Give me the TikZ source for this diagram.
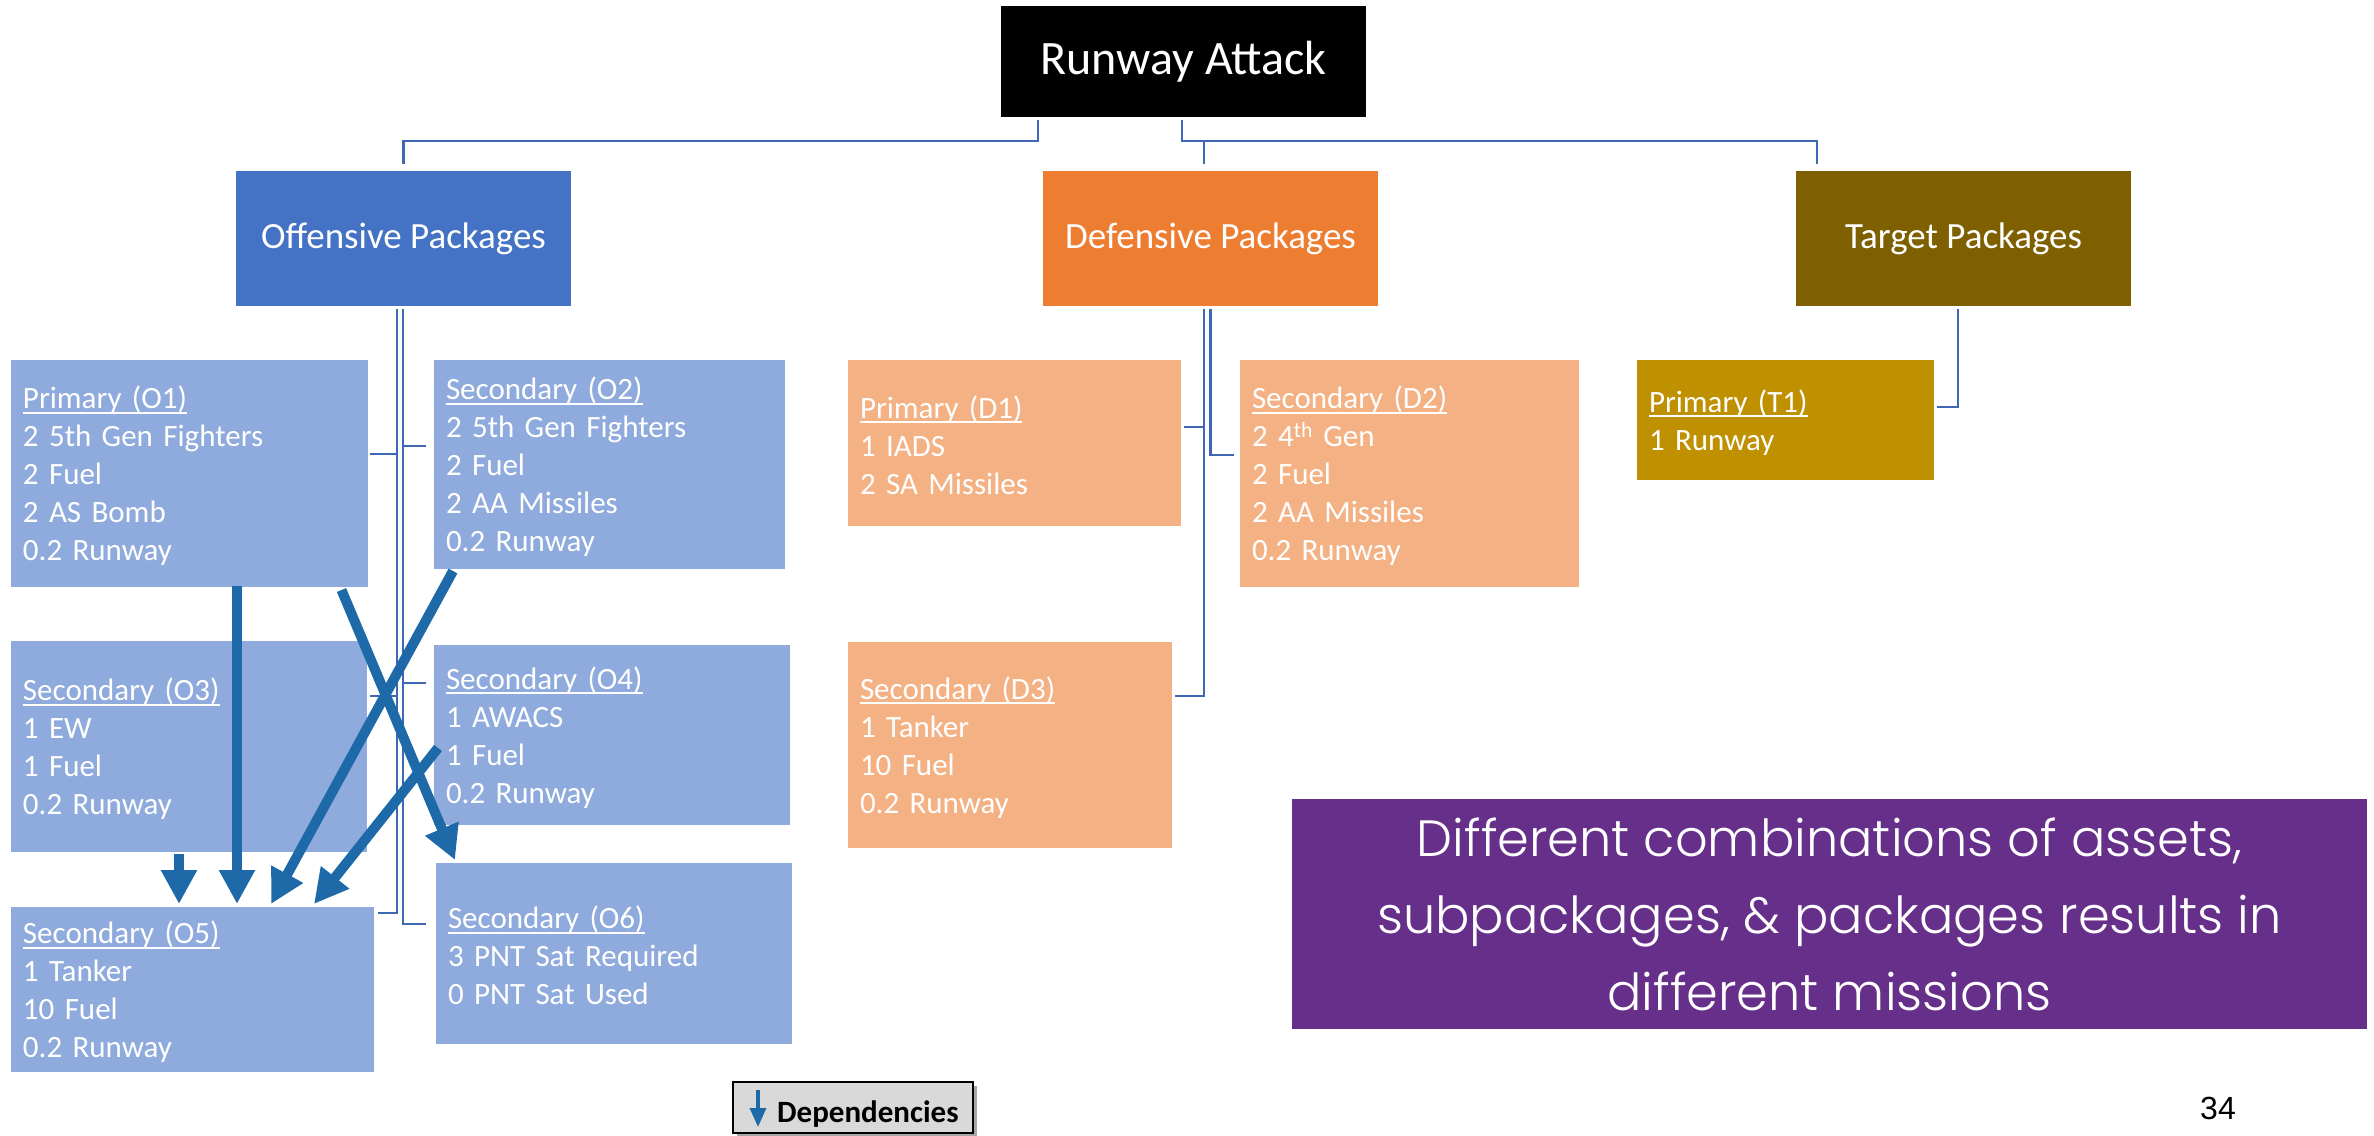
\documentclass[tikz,border=0pt]{standalone}
\usepackage{fontspec}
\setmainfont{Carlito}
\IfFontExistsTF{Poppins Light}
  {\newfontfamily\geofont{Poppins Light}}
  {\newfontfamily\geofont{Poppins}}
\newfontfamily\numfont{Liberation Sans}
\usetikzlibrary{arrows.meta,shadows}

\definecolor{offblue}{RGB}{68,114,196}
\definecolor{deforange}{RGB}{237,125,49}
\definecolor{tgtbrown}{RGB}{127,96,0}
\definecolor{offlight}{RGB}{143,170,220}
\definecolor{deflight}{RGB}{244,177,131}
\definecolor{tgtlight}{RGB}{191,144,0}
\definecolor{connblue}{RGB}{63,104,180}
\definecolor{depblue}{RGB}{30,106,168}
\definecolor{notepurple}{RGB}{102,48,138}
\definecolor{leggray}{RGB}{217,217,217}

% underlined heading line inside a package box
\newcommand\hdline[1]{\setbox0=\hbox{#1}\rule{0pt}{27pt}\rlap{\rule[-5pt]{\wd0}{2pt}}\box0}

\tikzset{
  rootbox/.style={fill=black, text=white, font=\fontsize{48}{58}\selectfont,
    minimum width=365, minimum height=111, inner sep=0, outer sep=0},
  pkgbox/.style={text=white, font=\fontsize{37}{45}\selectfont,
    minimum width=335, minimum height=135, inner sep=0, outer sep=0},
  subbox/.style={anchor=north west, text=white, font=\fontsize{31}{38}\selectfont,
    align=left, inner xsep=12, inner ysep=0, outer sep=0},
  conn/.style={draw=connblue, line width=2.5},
  dep/.style={draw=depblue, line width=10, -{Triangle[width=34pt,length=34pt]}},
  legbox/.style={fill=leggray, draw=black, line width=2, minimum width=240,
    minimum height=51, inner sep=0,
    drop shadow={shadow xshift=4pt, shadow yshift=-4pt, opacity=0.35, fill=black}},
  legtext/.style={font=\bfseries\fontsize{31}{37}\selectfont, inner sep=0, anchor=base west},
  legarrow/.style={draw=depblue, line width=3.3, -{Triangle[width=16pt,length=19pt]}},
  notebox/.style={fill=notepurple, text=white, minimum width=1075, minimum height=230,
    align=center, inner sep=0, font=\geofont\fontsize{51}{77}\selectfont},
  pagenum/.style={font=\numfont\fontsize{32}{38}\selectfont, inner sep=0}
}

\begin{document}
\begin{tikzpicture}[x=1pt,y=-1pt]
\useasboundingbox (0,0) rectangle (2374,1135);

% top of the hierarchy
\node[rootbox] (root) at (1183.5,61.5) {Runway Attack};
\node[pkgbox, fill=offblue]   (off) at (403.5,238.5)  {Offensive Packages};
\node[pkgbox, fill=deforange] (def) at (1210.5,238.5) {Defensive Packages};
\node[pkgbox, fill=tgtbrown]  (tgt) at (1963.5,238.5) {Target Packages};

% offensive sub-packages
\node[subbox, fill=offlight, text width=333, minimum height=227] (o1) at (11,360)
  {\hdline{Primary (O1)}\\2 5th Gen Fighters\\2 Fuel\\2 AS Bomb\\0.2 Runway};
\node[subbox, fill=offlight, text width=327, minimum height=209] (o2) at (434,360)
  {\hdline{Secondary (O2)}\\2 5th Gen Fighters\\2 Fuel\\2 AA Missiles\\0.2 Runway};
\node[subbox, fill=offlight, text width=332, minimum height=211] (o3) at (11,641)
  {\hdline{Secondary (O3)}\\1 EW\\1 Fuel\\0.2 Runway};
\node[subbox, fill=offlight, text width=332, minimum height=180] (o4) at (434,645)
  {\hdline{Secondary (O4)}\\1 AWACS\\1 Fuel\\0.2 Runway};
\node[subbox, fill=offlight, text width=339, minimum height=165] (o5) at (11,907)
  {\hdline{Secondary (O5)}\\1 Tanker\\10 Fuel\\0.2 Runway};
\node[subbox, fill=offlight, text width=332, minimum height=181] (o6) at (436,863)
  {\hdline{Secondary (O6)}\\3 PNT Sat Required\\0 PNT Sat Used};

% defensive sub-packages
\node[subbox, fill=deflight, text width=309, minimum height=166] (d1) at (848,360)
  {\hdline{Primary (D1)}\\1 IADS\\2 SA Missiles};
\node[subbox, fill=deflight, text width=315, minimum height=227] (d2) at (1240,360)
  {\hdline{Secondary (D2)}\\2 4\textsuperscript{th} Gen\\2 Fuel\\2 AA Missiles\\0.2 Runway};
\node[subbox, fill=deflight, text width=300, minimum height=206] (d3) at (848,642)
  {\hdline{Secondary (D3)}\\1 Tanker\\10 Fuel\\0.2 Runway};

% target sub-package
\node[subbox, fill=tgtlight, text width=273, minimum height=120] (t1) at (1637,360)
  {\hdline{Primary (T1)}\\1 Runway};

% root to packages
\draw[conn] ([xshift=-145.5,yshift=-3]root.south) -- ++(0,21) -| ([yshift=7]off.north);
\draw[conn] ([xshift=-1.5,yshift=-3]root.south) -- ++(0,21) -| ([xshift=-6.5,yshift=7]def.north);
\draw[conn] ([xshift=-1.5,yshift=-3]root.south) -- ++(0,21) -| ([xshift=-146.5,yshift=7]tgt.north);

% offensive package to its sub-packages
\draw[conn] ([xshift=-6.5,yshift=-3]off.south) |- ([xshift=2,yshift=19.5]o1.east);
\draw[conn] ([xshift=-6.5,yshift=-3]off.south) |- ([xshift=3,yshift=50.5]o3.east);
\draw[conn] ([xshift=-6.5,yshift=-3]off.south) |- ([xshift=4,yshift=76.5]o5.east);
\draw[conn] ([xshift=-0.5,yshift=-3]off.south) |- ([xshift=-8,yshift=18.5]o2.west);
\draw[conn] ([xshift=-0.5,yshift=-3]off.south) |- ([xshift=-8,yshift=52]o4.west);
\draw[conn] ([xshift=-0.5,yshift=-3]off.south) |- ([xshift=-10,yshift=29.5]o6.west);

% defensive package to its sub-packages
\draw[conn] ([xshift=-6.5,yshift=-3]def.south) |- ([xshift=3,yshift=16]d1.east);
\draw[conn] ([xshift=-6.5,yshift=-3]def.south) |- ([xshift=3,yshift=49]d3.east);
\draw[conn] ([yshift=-3]def.south) |- ([xshift=-6,yshift=18.5]d2.west);

% target package to its sub-package
\draw[conn] ([xshift=-5.5,yshift=-3]tgt.south) |- ([xshift=3,yshift=13]t1.east);

% dependencies between offensive sub-packages
\draw[dep] ([xshift=47.5,yshift=1]o1.south) -- ([xshift=44.5,yshift=3]o5.north);
\draw[dep] ([xshift=-10,yshift=-2]o3.south) -- ([xshift=-13.5,yshift=3]o5.north);
\draw[dep] ([xshift=-156.5,yshift=-2]o2.south) -- ([xshift=78.5,yshift=3]o5.north);
\draw[dep] ([xshift=4,yshift=-13]o4.west) -- ([xshift=121.5,yshift=3]o5.north);
\draw[dep] ([xshift=152,yshift=-3]o1.south) -- ([xshift=-159,yshift=3]o6.north);

% summary note
\node[notebox] (note) at (1829.5,914)
  {Different combinations of assets,\\subpackages, \& packages results in\\different missions};

% legend
\node[legbox] (leg) at (853,1107.5) {};
\node[legtext] (legt) at ([xshift=45,yshift=-14.5]leg.west) {Dependencies};
\draw[legarrow] ([xshift=26,yshift=17.5]leg.west) -- ([xshift=26,yshift=-19.5]leg.west);

% page number
\node[pagenum] (pg) at (2218,1108.5) {34};
\end{tikzpicture}
\end{document}
